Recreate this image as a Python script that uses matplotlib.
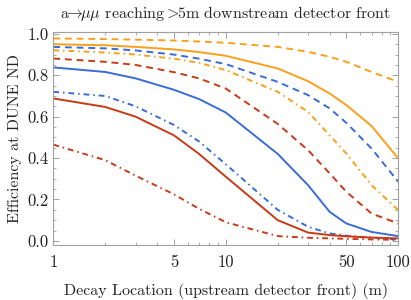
import numpy as np
import matplotlib
matplotlib.use("Agg")
import matplotlib.pyplot as plt
from matplotlib.ticker import FixedLocator, FixedFormatter, MultipleLocator

plt.rcParams['font.family'] = ['cmr10', 'DejaVu Serif']
plt.rcParams['mathtext.fontset'] = 'cm'
plt.rcParams['axes.formatter.use_mathtext'] = True

# decay location (m)
decayX = [1, 2, 3, 5, 7, 10, 20, 30, 40, 50, 70, 100]

# efficiencies
orangeDashed = [0.978, 0.975, 0.972, 0.968, 0.963, 0.957, 0.937, 0.913, 0.889, 0.865, 0.816, 0.768]
orangeSolid = [0.950, 0.945, 0.937, 0.925, 0.912, 0.894, 0.833, 0.771, 0.712, 0.656, 0.555, 0.398]
orangeDotDash = [0.921, 0.910, 0.900, 0.880, 0.860, 0.825, 0.720, 0.623, 0.510, 0.422, 0.269, 0.148]
blueDashed = [0.937, 0.930, 0.920, 0.900, 0.880, 0.854, 0.768, 0.704, 0.640, 0.570, 0.446, 0.285]
blueSolid = [0.838, 0.816, 0.785, 0.730, 0.685, 0.620, 0.420, 0.269, 0.140, 0.084, 0.043, 0.023]
blueDotDash = [0.720, 0.700, 0.650, 0.560, 0.480, 0.370, 0.150, 0.068, 0.036, 0.025, 0.015, 0.006]
redDashed = [0.881, 0.865, 0.850, 0.815, 0.785, 0.736, 0.565, 0.438, 0.326, 0.237, 0.132, 0.084]
redSolid = [0.688, 0.647, 0.600, 0.510, 0.420, 0.310, 0.100, 0.040, 0.028, 0.022, 0.016, 0.012]
redDotDash = [0.465, 0.390, 0.315, 0.225, 0.155, 0.090, 0.023, 0.015, 0.012, 0.010, 0.007, 0.005]

ORANGE = '#F9A01B'
BLUE = '#3A6CD6'
RED = '#C93A16'
dashStyle = (0, (3.5, 2.5))
dotDashStyle = (0, (3, 2, 0.8, 2))

fig = plt.figure(figsize=(4.11, 3.0), dpi=100)
ax = fig.add_axes([0.1297, 0.1833, 0.8394, 0.7107])

curves = [
    (orangeDashed, ORANGE, dashStyle),
    (orangeSolid, ORANGE, '-'),
    (orangeDotDash, ORANGE, dotDashStyle),
    (blueDashed, BLUE, dashStyle),
    (blueSolid, BLUE, '-'),
    (blueDotDash, BLUE, dotDashStyle),
    (redDashed, RED, dashStyle),
    (redSolid, RED, '-'),
    (redDotDash, RED, dotDashStyle),
]
for yVals, col, ls in curves:
    ax.plot(decayX, yVals, color=col, linestyle=ls, linewidth=1.4)

ax.set_xscale('log')
ax.set_xlim(1, 100)
ax.set_ylim(-0.02, 1.01)

ax.xaxis.set_major_locator(FixedLocator([1, 5, 10, 50, 100]))
ax.xaxis.set_major_formatter(FixedFormatter(['1', '5', '10', '50', '100']))
minorX = [2, 3, 4, 6, 7, 8, 9, 20, 30, 40, 60, 70, 80, 90]
ax.xaxis.set_minor_locator(FixedLocator(minorX))
ax.xaxis.set_minor_formatter(FixedFormatter([''] * len(minorX)))
ax.yaxis.set_major_locator(FixedLocator([0.0, 0.2, 0.4, 0.6, 0.8, 1.0]))
ax.yaxis.set_major_formatter(FixedFormatter(['0.0', '0.2', '0.4', '0.6', '0.8', '1.0']))
ax.yaxis.set_minor_locator(MultipleLocator(0.05))

for sp in ax.spines.values():
    sp.set_color('#a0a0a0')
    sp.set_linewidth(0.8)
ax.tick_params(which='both', direction='in', top=True, right=True, color='#a0a0a0', labelsize=12, labelcolor='#222222')
ax.tick_params(which='major', length=4, width=0.7)
ax.tick_params(which='minor', length=2.2, width=0.6)
ax.tick_params(axis='x', pad=7)

ax.set_xlabel('Decay Location (upstream detector front) (m)', fontsize=11.5, color='#222222', labelpad=9)
ax.set_ylabel('Efficiency at DUNE ND', fontsize=11.5, color='#222222', labelpad=4)
ax.set_title(r'a$\!\!\rightarrow\!\!\mu\mu$ reaching $\!\!>\!\!$5m downstream detector front', fontsize=11.5, color='#222222', pad=10)

fig.savefig('out.png', dpi=100)
